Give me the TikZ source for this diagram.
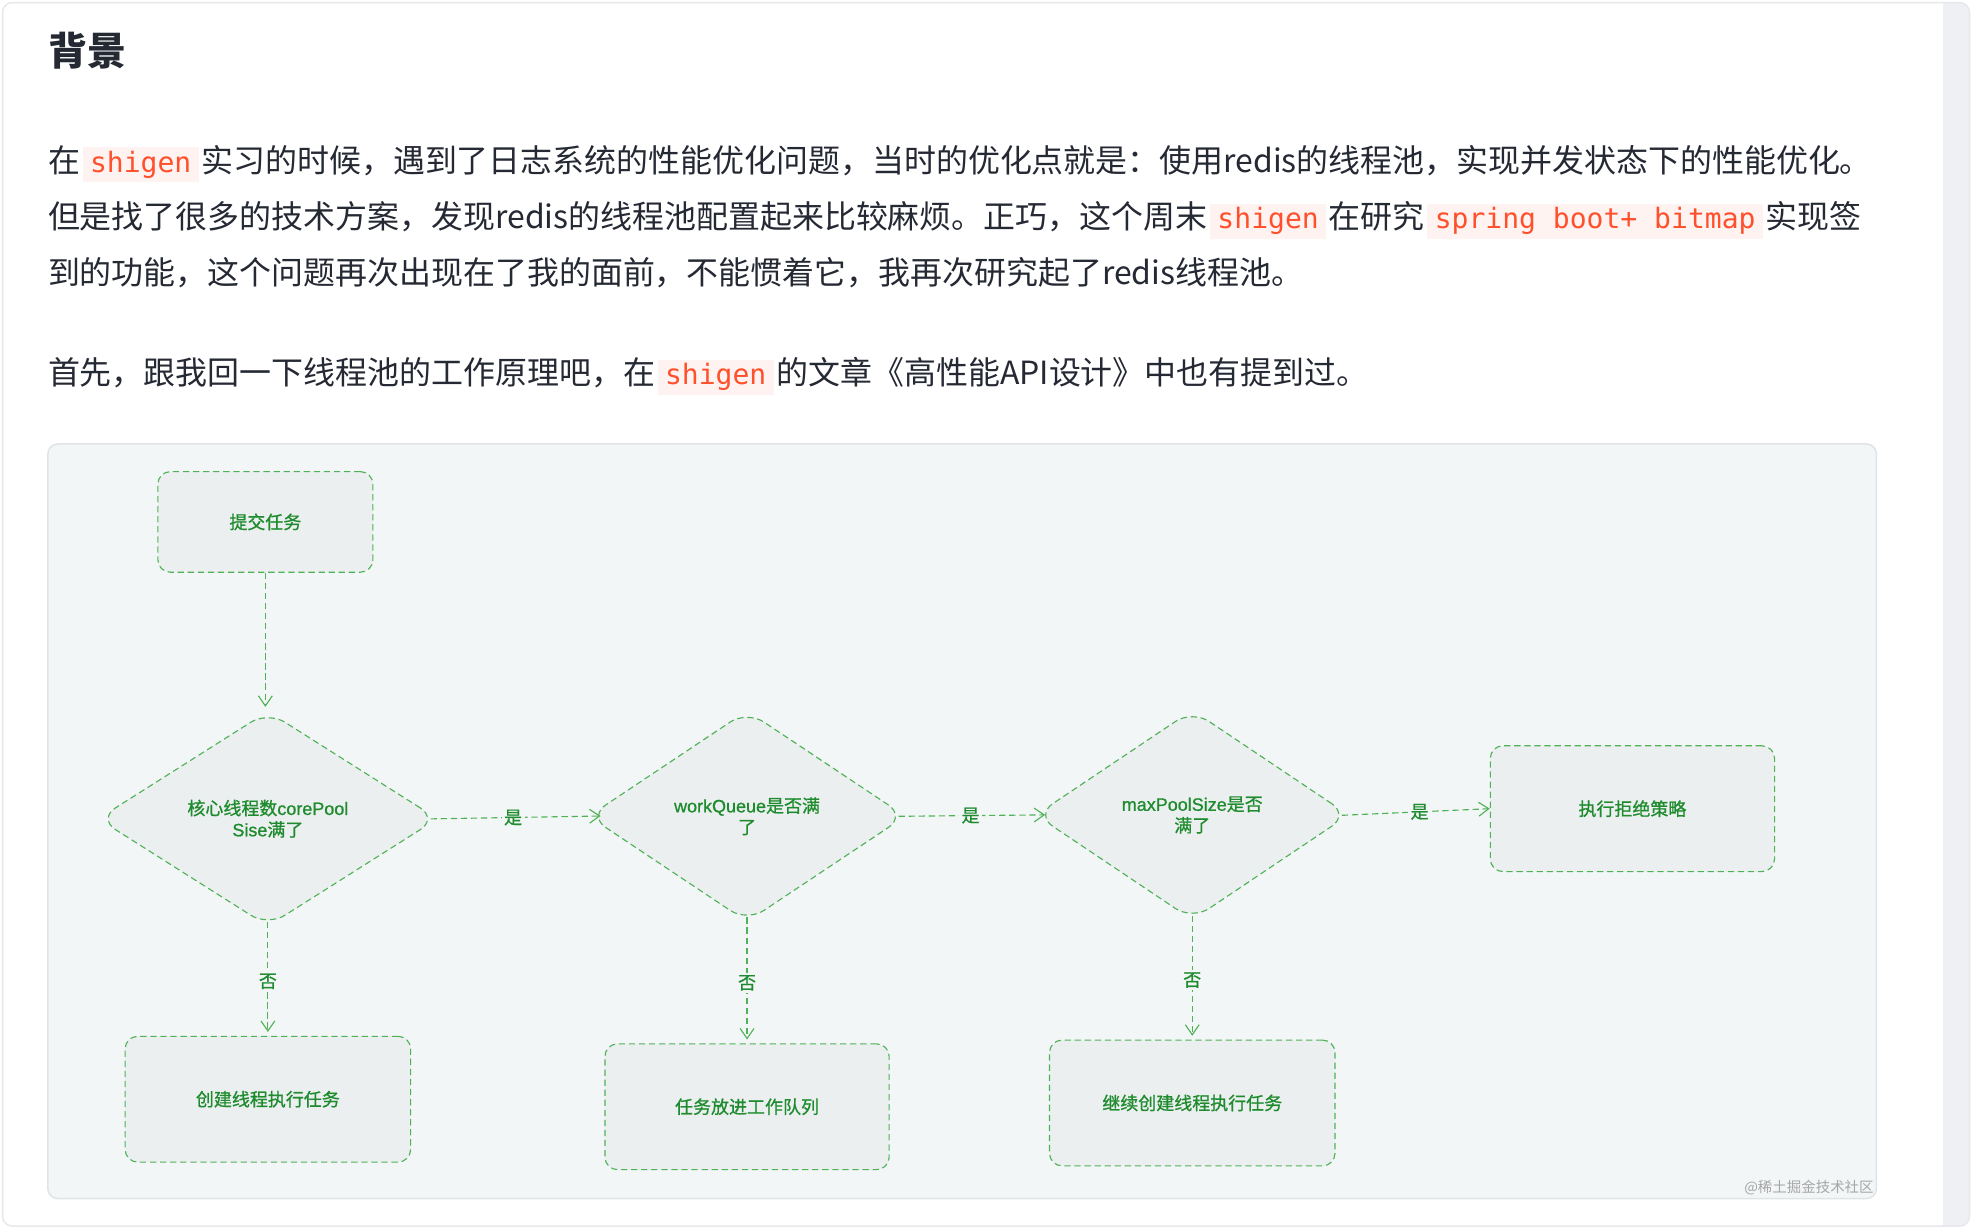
\documentclass[tikz,border=0pt]{standalone}
\usepackage{fontspec}
\setmainfont{Noto Sans CJK SC}
\newfontfamily\codefont{DejaVu Sans Mono}
\newfontfamily\flowfont[FakeBold=0.9]{Noto Sans CJK SC}
\newfontfamily\latfont[FakeBold=0.9]{Liberation Sans}
\usetikzlibrary{arrows.meta,shapes.geometric}
\definecolor{ink}{HTML}{252933}
\definecolor{codered}{HTML}{FF502C}
\definecolor{codebg}{HTML}{FFF3F2}
\definecolor{panel}{HTML}{F3F6F7}
\definecolor{panelline}{HTML}{E1E4E7}
\definecolor{cardline}{HTML}{E6E8EB}
\definecolor{track}{HTML}{EEF0F3}
\definecolor{nodefill}{HTML}{ECEFF0}
\definecolor{flowgreen}{HTML}{1E8C2E}
\definecolor{dashgreen}{HTML}{4FB257}
\newcommand{\code}[1]{\hspace{2pt}{\fboxsep=3pt\colorbox{codebg}{\hspace{3pt}\fontsize{22.3}{26}\codefont\color{codered}#1\hspace{3pt}}}\hspace{2pt}}
\newcommand{\en}[1]{{\latfont #1}}
\tikzset{
  paraline/.style={anchor=base west,inner sep=0pt,text=ink,font=\fontsize{25.4}{30}\selectfont},
  flowbox/.style={draw=dashgreen,dash pattern=on 5pt off 3pt,line width=0.9pt,fill=nodefill,rounded corners=10pt,text=flowgreen,font=\fontsize{14.3}{17}\flowfont,align=center,inner sep=0pt},
  flowdiam/.style={flowbox,diamond,aspect=1.6,rounded corners=16pt},
  flowarr/.style={-{Straight Barb[length=8pt,width=11pt]},draw=dashgreen,dash pattern=on 5pt off 3pt,line width=0.9pt},
  flowlabel/.style={fill=panel,text=flowgreen,font=\fontsize{14.3}{17}\flowfont,inner sep=2pt}
}
\begin{document}
\begin{tikzpicture}[x=1pt,y=-1pt]
  \useasboundingbox (0,0) rectangle (1568,978);
  \fill[white] (0,0) rectangle (1568,978);
  \begin{scope}
    \clip[rounded corners=8pt] (2,2) rectangle (1566,975);
    \fill[white] (2,2) rectangle (1566,975);
    \fill[track] (1545,2) rectangle (1566,975);
  \end{scope}
  \draw[cardline,line width=1.2pt,rounded corners=8pt] (2,2) rectangle (1566,975);

  \node[paraline,font=\fontsize{31}{36}\bfseries] (title) at (38,52) {背景};
  \node[paraline] (l1) at (38,137) {在\code{shigen}实习的时候，遇到了日志系统的性能优化问题，当时的优化点就是：使用redis的线程池，实现并发状态下的性能优化。};
  \node[paraline] (l2) at (38,182) {但是找了很多的技术方案，发现redis的线程池配置起来比较麻烦。正巧，这个周末\code{shigen}在研究\code{spring boot+ bitmap}实现签};
  \node[paraline] (l3) at (38,226) {到的功能，这个问题再次出现在了我的面前，不能惯着它，我再次研究起了redis线程池。};
  \node[paraline] (l4) at (38,306) {首先，跟我回一下线程池的工作原理吧，在\code{shigen}的文章《高性能API设计》中也有提到过。};

  \draw[panelline,fill=panel,line width=1.2pt,rounded corners=8pt] (38,353) rectangle (1492,953);

  \node[flowbox,minimum width=171pt,minimum height=80pt] (submit) at (211,415) {提交任务};
  \node[flowdiam,minimum width=270pt,minimum height=171pt] (core) at (213,651) {核心线程数\en{corePool}\\\en{Sise}满了};
  \node[flowdiam,minimum width=252pt,minimum height=168pt] (queue) at (594,649) {\en{workQueue}是否满\\了};
  \node[flowdiam,minimum width=249pt,minimum height=167pt] (maxp) at (948,648) {\en{maxPoolSize}是否\\满了};
  \node[flowbox,minimum width=226pt,minimum height=100pt] (reject) at (1298,643) {执行拒绝策略};
  \node[flowbox,minimum width=227pt,minimum height=100pt] (create) at (213,874) {创建线程执行任务};
  \node[flowbox,minimum width=226pt,minimum height=100pt] (enqueue) at (594,880) {任务放进工作队列};
  \node[flowbox,minimum width=227pt,minimum height=100pt] (extra) at (948,877) {继续创建线程执行任务};

  \draw[flowarr,shorten >=3pt] (submit.south) -- (submit.south |- core.north);
  \draw[flowarr,shorten <=-6pt,shorten >=-10pt] (core.east) -- (queue.west) node[flowlabel,midway] {是};
  \draw[flowarr,shorten <=-6pt,shorten >=-8pt] (queue.east) -- (maxp.west) node[flowlabel,midway] {是};
  \draw[flowarr,shorten <=-6pt] (maxp.east) -- (reject.west) node[flowlabel,midway] {是};
  \draw[flowarr,shorten <=-4pt,shorten >=3pt] (core.south) -- (create.north) node[flowlabel,midway] {否};
  \draw[flowarr,shorten <=-4pt,shorten >=3pt] (queue.south) -- (enqueue.north) node[flowlabel,midway] {否};
  \draw[flowarr,shorten <=-4pt,shorten >=3pt] (maxp.south) -- (extra.north) node[flowlabel,midway] {否};

  \node[anchor=east,inner sep=0pt,text=black!35,font=\fontsize{11.5}{13}\selectfont] (mark) at (1490,944) {@稀土掘金技术社区};
\end{tikzpicture}
\end{document}
